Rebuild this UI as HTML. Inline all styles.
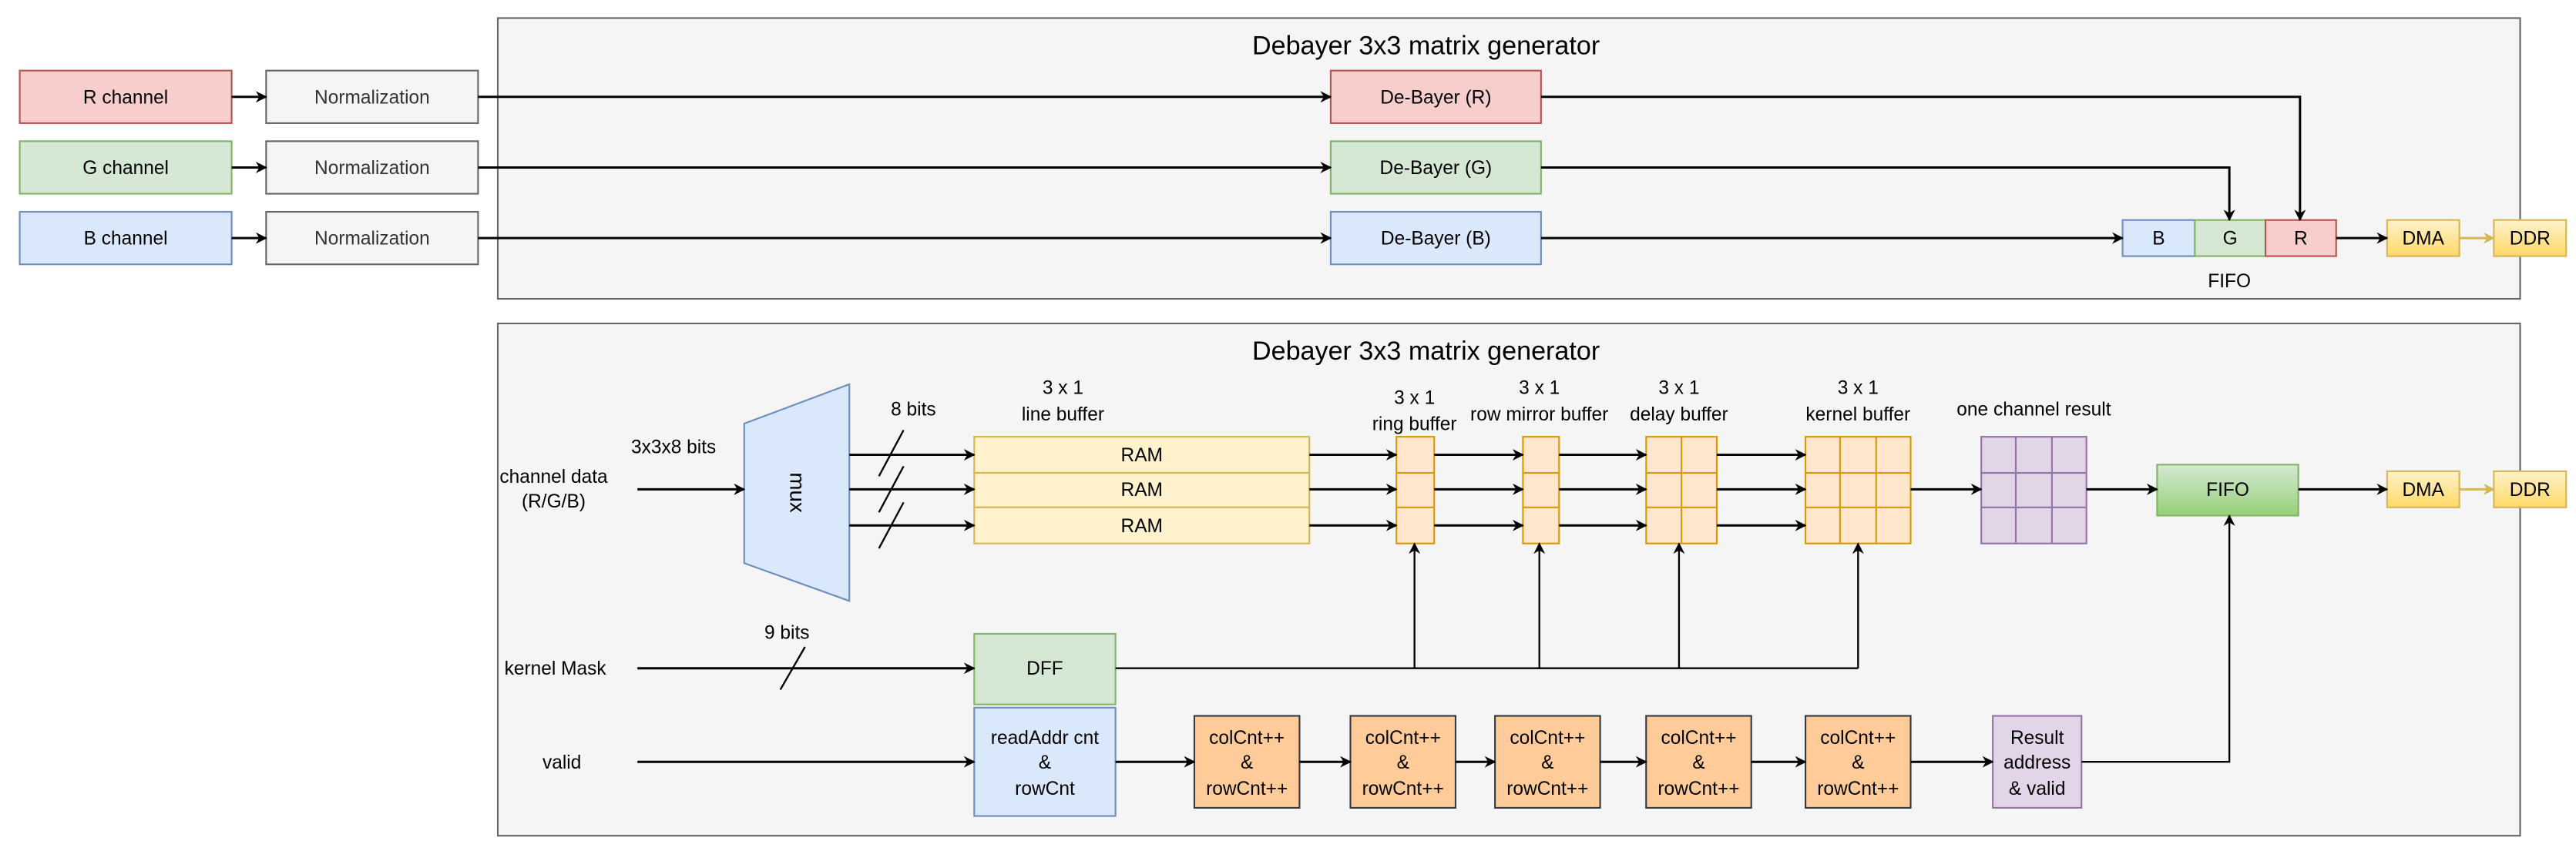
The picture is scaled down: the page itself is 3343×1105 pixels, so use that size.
<!DOCTYPE html>
<html><head><meta charset="utf-8"><style>html,body{margin:0;padding:0;background:#fff}svg{display:block}</style></head>
<body>
<svg xmlns="http://www.w3.org/2000/svg" width="3343" height="1105" viewBox="0 0 1568 518.3" preserveAspectRatio="none" font-family="Liberation Sans, Arial, sans-serif">
<defs>
<marker id="a" viewBox="0 0 10 10" refX="9" refY="5" markerWidth="7" markerHeight="7" markerUnits="userSpaceOnUse" orient="auto"><path d="M0,0 L10,5 L0,10 L3,5 Z" fill="#000"/></marker>
<marker id="g" viewBox="0 0 10 10" refX="9" refY="5" markerWidth="7" markerHeight="7" markerUnits="userSpaceOnUse" orient="auto"><path d="M0,0 L10,5 L0,10 L3,5 Z" fill="#d6b656"/></marker>
<linearGradient id="yl" x1="0" y1="0" x2="0" y2="1"><stop offset="0" stop-color="#fff2cc"/><stop offset="1" stop-color="#ffd966"/></linearGradient>
<linearGradient id="gr" x1="0" y1="0" x2="0" y2="1"><stop offset="0" stop-color="#d5e8d4"/><stop offset="1" stop-color="#97d077"/></linearGradient>
</defs>
<g stroke-width="1">
<rect x="303" y="11" width="1231" height="171" fill="#f5f5f5" stroke="#666"/>
<rect x="303" y="197" width="1231" height="312" fill="#f5f5f5" stroke="#666"/>
</g>
<g font-size="16" fill="#000" text-anchor="middle">
<text x="868" y="33">Debayer 3x3 matrix generator</text>
<text x="868" y="219">Debayer 3x3 matrix generator</text>
</g>

<g stroke-width="1">
<rect x="12" y="43" width="129" height="32" fill="#f8cecc" stroke="#b85450"/>
<rect x="12" y="86" width="129" height="32" fill="#d5e8d4" stroke="#82b366"/>
<rect x="12" y="129" width="129" height="32" fill="#dae8fc" stroke="#6c8ebf"/>
<rect x="162" y="43" width="129" height="32" fill="#f5f5f5" stroke="#666"/>
<rect x="162" y="86" width="129" height="32" fill="#f5f5f5" stroke="#666"/>
<rect x="162" y="129" width="129" height="32" fill="#f5f5f5" stroke="#666"/>
<rect x="810" y="43" width="128" height="32" fill="#f8cecc" stroke="#b85450"/>
<rect x="810" y="86" width="128" height="32" fill="#d5e8d4" stroke="#82b366"/>
<rect x="810" y="129" width="128" height="32" fill="#dae8fc" stroke="#6c8ebf"/>
<rect x="1292" y="134" width="44" height="22" fill="#dae8fc" stroke="#6c8ebf"/>
<rect x="1336" y="134" width="43" height="22" fill="#d5e8d4" stroke="#82b366"/>
<rect x="1379" y="134" width="43" height="22" fill="#f8cecc" stroke="#b85450"/>
<rect x="1453" y="134" width="44" height="22" fill="url(#yl)" stroke="#d6b656"/>
<rect x="1518" y="134" width="44" height="22" fill="url(#yl)" stroke="#d6b656"/>
</g>
<g stroke="#000" stroke-width="1.4" fill="none" marker-end="url(#a)">
<path d="M141,59 H162"/><path d="M141,102 H162"/><path d="M141,145 H162"/>
<path d="M291,59 H810"/><path d="M291,102 H810"/><path d="M291,145 H810"/>
<path d="M938,59 H1400 V134"/><path d="M938,102 H1357 V134"/><path d="M938,145 H1292"/>
<path d="M1422,145 H1453"/>
</g>
<path d="M1497,145 H1518" stroke="#d6b656" stroke-width="1.4" marker-end="url(#g)"/>
<g font-size="11.5" text-anchor="middle" fill="#000">
<text x="76.5" y="63">R channel</text><text x="76.5" y="106">G channel</text><text x="76.5" y="149">B channel</text>
<text x="226.5" y="63" fill="#333">Normalization</text><text x="226.5" y="106" fill="#333">Normalization</text><text x="226.5" y="149" fill="#333">Normalization</text>
<text x="874" y="63">De-Bayer (R)</text><text x="874" y="106">De-Bayer (G)</text><text x="874" y="149">De-Bayer (B)</text>
<text x="1314" y="149">B</text><text x="1357.5" y="149">G</text><text x="1400.5" y="149">R</text>
<text x="1357" y="175">FIFO</text>
<text x="1475" y="149">DMA</text><text x="1540" y="149">DDR</text>
</g>

<polygon points="453,258 517,234 517,366 453,343" fill="#dae8fc" stroke="#6c8ebf"/>
<text x="0" y="0" font-size="13" text-anchor="middle" transform="translate(481,300) rotate(90)">mux</text>
<g stroke="#d6b656" fill="#fff2cc">
<rect x="593" y="266" width="204" height="22"/><rect x="593" y="288" width="204" height="21"/><rect x="593" y="309" width="204" height="22"/>
</g>
<g stroke="#d79b00" fill="#ffe6cc">
<rect x="850" y="266" width="23" height="65"/><path d="M850,288 H873 M850,309 H873" fill="none"/>
<rect x="927" y="266" width="22" height="65"/><path d="M927,288 H949 M927,309 H949" fill="none"/>
<rect x="1002" y="266" width="43" height="65"/><path d="M1002,288 H1045 M1002,309 H1045 M1023.5,266 V331" fill="none"/>
<rect x="1099" y="266" width="64" height="65"/><path d="M1099,288 H1163 M1099,309 H1163 M1120,266 V331 M1142,266 V331" fill="none"/>
</g>
<g stroke="#9673a6" fill="#e1d5e7">
<rect x="1206" y="266" width="64" height="65"/><path d="M1206,288 H1270 M1206,309 H1270 M1227,266 V331 M1249,266 V331" fill="none"/>
</g>
<rect x="1313" y="283" width="86" height="31" fill="url(#gr)" stroke="#82b366"/>
<rect x="1453" y="287" width="44" height="22" fill="url(#yl)" stroke="#d6b656"/>
<rect x="1518" y="287" width="44" height="22" fill="url(#yl)" stroke="#d6b656"/>
<rect x="593" y="386" width="86" height="43" fill="#d5e8d4" stroke="#82b366"/>
<rect x="593" y="431" width="86" height="66" fill="#dae8fc" stroke="#6c8ebf"/>
<g fill="#ffcc99" stroke="#36393d">
<rect x="727" y="436" width="64" height="56"/><rect x="822" y="436" width="64" height="56"/><rect x="910" y="436" width="64" height="56"/><rect x="1002" y="436" width="64" height="56"/><rect x="1099" y="436" width="64" height="56"/>
</g>
<rect x="1213" y="436" width="54" height="56" fill="#e1d5e7" stroke="#9673a6"/>

<g stroke="#000" stroke-width="1.4" fill="none" marker-end="url(#a)">
<path d="M388,298 H453"/>
<path d="M517,277 H593"/><path d="M517,298 H593"/><path d="M517,320 H593"/>
<path d="M797,277 H850"/><path d="M797,298 H850"/><path d="M797,320 H850"/>
<path d="M873,277 H927"/><path d="M873,298 H927"/><path d="M873,320 H927"/>
<path d="M949,277 H1002"/><path d="M949,298 H1002"/><path d="M949,320 H1002"/>
<path d="M1045,277 H1099"/><path d="M1045,298 H1099"/><path d="M1045,320 H1099"/>
<path d="M1163,298 H1206"/><path d="M1270,298 H1313"/><path d="M1399,298 H1453"/>
<path d="M388,407 H593"/>
<path d="M388,464 H593"/>
<path d="M679,464 H727"/><path d="M791,464 H822"/><path d="M886,464 H910"/><path d="M974,464 H1002"/><path d="M1066,464 H1099"/><path d="M1163,464 H1213"/>
</g>
<g stroke="#000" stroke-width="1.1" fill="none">
<path d="M679,407 H1131"/>
<path d="M861,407 V331" marker-end="url(#a)"/><path d="M937,407 V331" marker-end="url(#a)"/><path d="M1022,407 V331" marker-end="url(#a)"/><path d="M1131,407 V331" marker-end="url(#a)"/>
<path d="M1267,464 H1357 V314" marker-end="url(#a)"/>
<path d="M535,290 L550,262 M535,312 L550,284 M535,334 L550,306"/>
<path d="M475,420 L490,394"/>
</g>
<path d="M1497,298 H1518" stroke="#d6b656" stroke-width="1.4" marker-end="url(#g)"/>

<g font-size="11.5" text-anchor="middle" fill="#000">
<text x="337" y="294">channel data</text><text x="337" y="309">(R/G/B)</text>
<text x="410" y="276">3x3x8 bits</text>
<text x="556" y="253">8 bits</text>
<text x="647" y="240">3 x 1</text><text x="647" y="256">line buffer</text>
<text x="861" y="246">3 x 1</text><text x="861" y="262">ring buffer</text>
<text x="937" y="240">3 x 1</text><text x="937" y="256">row mirror buffer</text>
<text x="1022" y="240">3 x 1</text><text x="1022" y="256">delay buffer</text>
<text x="1131" y="240">3 x 1</text><text x="1131" y="256">kernel buffer</text>
<text x="1238" y="253">one channel result</text>
<text x="695" y="281">RAM</text><text x="695" y="302">RAM</text><text x="695" y="324">RAM</text>
<text x="1356" y="302">FIFO</text>
<text x="1475" y="302">DMA</text><text x="1540" y="302">DDR</text>
<text x="338" y="411">kernel Mask</text>
<text x="479" y="389">9 bits</text>
<text x="342" y="468">valid</text>
<text x="636" y="411">DFF</text>
<text x="636" y="453">readAddr cnt</text><text x="636" y="468">&amp;</text><text x="636" y="484">rowCnt</text>
<text x="759" y="453">colCnt++</text><text x="759" y="468">&amp;</text><text x="759" y="484">rowCnt++</text>
<text x="854" y="453">colCnt++</text><text x="854" y="468">&amp;</text><text x="854" y="484">rowCnt++</text>
<text x="942" y="453">colCnt++</text><text x="942" y="468">&amp;</text><text x="942" y="484">rowCnt++</text>
<text x="1034" y="453">colCnt++</text><text x="1034" y="468">&amp;</text><text x="1034" y="484">rowCnt++</text>
<text x="1131" y="453">colCnt++</text><text x="1131" y="468">&amp;</text><text x="1131" y="484">rowCnt++</text>
<text x="1240" y="453">Result</text><text x="1240" y="468">address</text><text x="1240" y="484">&amp; valid</text>
</g>
</svg>
</body></html>
